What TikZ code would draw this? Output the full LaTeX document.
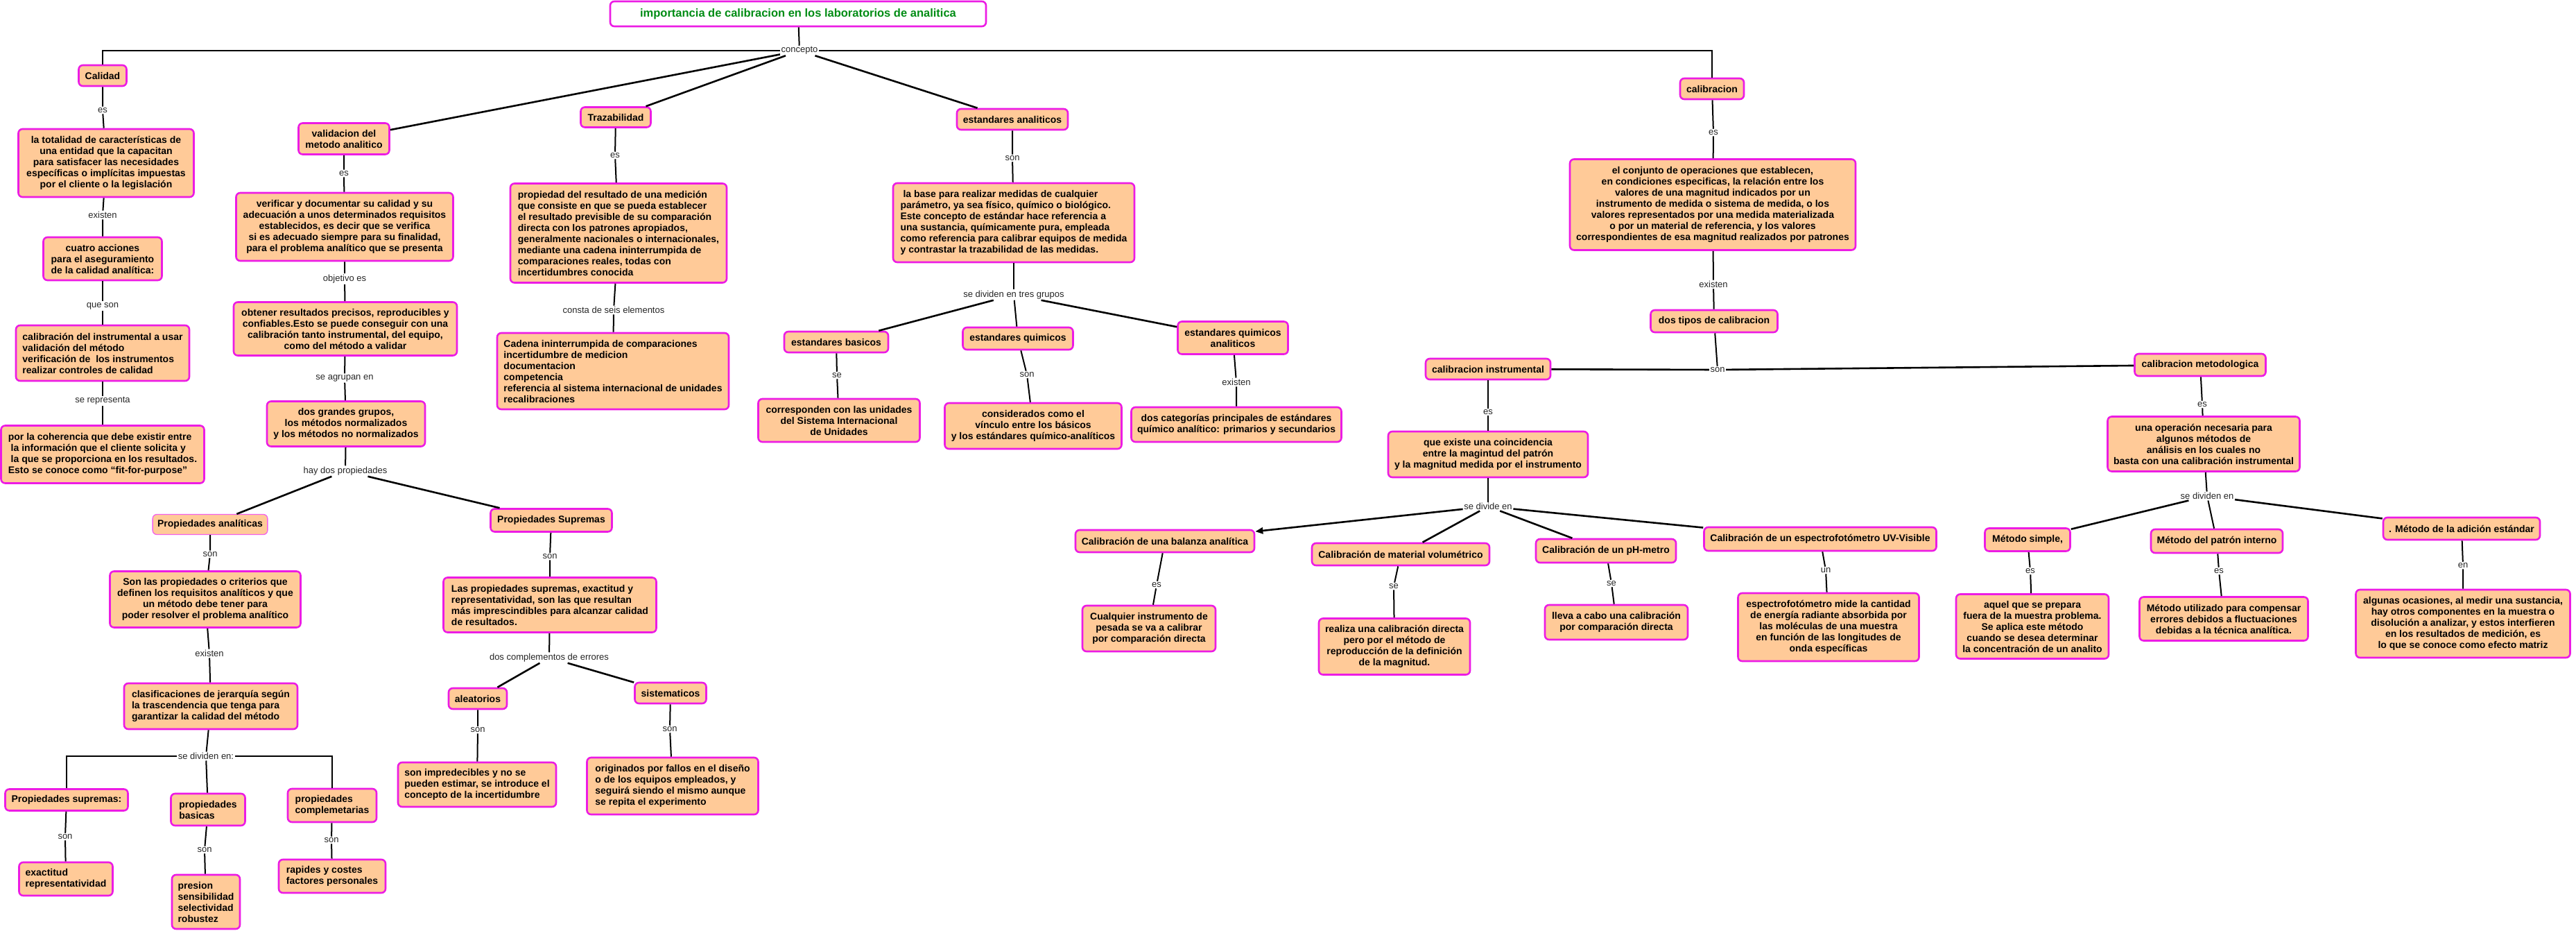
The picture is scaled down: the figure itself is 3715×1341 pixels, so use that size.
\documentclass[tikz,border=0pt]{standalone}
\usepackage{fontspec}
\setmainfont{Liberation Sans}
\usetikzlibrary{arrows.meta}
\definecolor{boxfill}{RGB}{255,202,152}
\definecolor{boxdraw}{RGB}{236,28,228}
\definecolor{titlegreen}{RGB}{0,140,20}
\begin{document}
\begin{tikzpicture}[x=1pt,y=-1pt,
 bx/.style={draw=boxdraw, fill=boxfill, line width=2.6pt, rounded corners=6pt, font=\fontsize{14}{16}\selectfont\bfseries, inner xsep=7pt, inner ysep=4pt},
 lb/.style={fill=white, font=\fontsize{13}{15}\selectfont, inner sep=1.5pt, text=black!85},
 cn/.style={line width=2pt, draw=black},
 cc/.style={align=center},
 cl/.style={align=left},
]
\useasboundingbox (0,0) rectangle (3715,1341);

% ---------- title ----------
\node[bx, fill=white, text=titlegreen, font=\fontsize{16.5}{19}\selectfont\bfseries, minimum width=542pt, minimum height=36pt] (title) at (1151,20) {importancia de calibracion en los laboratorios de analitica};
\node[lb] (concepto) at (1153,73) {concepto};

% ---------- Calidad column ----------
\node[bx, minimum width=69pt, minimum height=30pt] (calidad) at (148,109) {Calidad};
\node[lb] (esA) at (148,159) {es};
\node[bx, cc, minimum width=253pt, minimum height=98pt] (totalidad) at (153,235) {la totalidad de características de\\una entidad que la capacitan\\para satisfacer las necesidades\\específicas o implícitas impuestas\\por el cliente o la legislación};
\node[lb] (existenA) at (148,310) {existen};
\node[bx, cc, minimum width=171pt, minimum height=62pt] (cuatro) at (148,373) {cuatro acciones\\para el aseguramiento\\de la calidad analítica:};
\node[lb] (queson) at (148,441) {que son};
\node[bx, cl, minimum width=250pt, minimum height=80pt] (acciones) at (148,509) {calibración del instrumental a usar\\validación del método\\verificación de\ \ los instrumentos\\realizar controles de calidad};
\node[lb] (serep) at (148,578) {se representa};
\node[bx, cl, minimum width=293pt, minimum height=83pt] (coherencia) at (148,655) {por la coherencia que debe existir entre\\\ la información que el cliente solicita y\\\ la que se proporciona en los resultados.\\Esto se conoce como “fit-for-purpose”};

% ---------- validacion column ----------
\node[bx, cc, minimum width=131pt, minimum height=45pt] (valid) at (496,200) {validacion del\\metodo analitico};
\node[lb] (esB) at (496,250) {es};
\node[bx, cc, minimum width=313pt, minimum height=98pt] (verif) at (497,327) {verificar y documentar su calidad y su\\adecuación a unos determinados requisitos\\establecidos, es decir que se verifica\\si es adecuado siempre para su finalidad,\\para el problema analítico que se presenta};
\node[lb] (objetivo) at (497,402) {objetivo es};
\node[bx, cc, minimum width=322pt, minimum height=77pt] (obtener) at (498,474) {obtener resultados precisos, reproducibles y\\confiables.Esto se puede conseguir con una\\calibración tanto instrumental, del equipo,\\como del método a validar};
\node[lb] (seagrupan) at (497,545) {se agrupan en};
\node[bx, cc, minimum width=228pt, minimum height=65pt] (grupos) at (499,611) {dos grandes grupos,\\los métodos normalizados\\y los métodos no normalizados};
\node[lb] (haydos) at (498,679) {hay dos propiedades};
\node[bx, line width=1.3pt, draw=boxdraw!70, minimum width=165pt, minimum height=29pt] (propanal) at (303,756) {Propiedades analíticas};
\node[bx, minimum width=175pt, minimum height=33pt] (propsupA) at (795,750) {Propiedades Supremas};
\node[lb] (sonC) at (303,799) {son};
\node[bx, cc, minimum width=275pt, minimum height=81pt] (sonlas) at (296,864) {Son las propiedades o criterios que\\definen los requisitos analíticos y que\\un método debe tener para\\poder resolver el problema analítico};
\node[lb] (sonD) at (793,802) {son};
\node[bx, cl, minimum width=307pt, minimum height=79pt] (lasprop) at (793,872) {Las propiedades supremas, exactitud y\\representatividad, son las que resultan\\más imprescindibles para alcanzar calidad\\de resultados.};
\node[lb] (existenB) at (302,942) {existen};
\node[bx, cl, minimum width=250pt, minimum height=66pt] (clasif) at (304,1018) {clasificaciones de jerarquía según\\la trascendencia que tenga para\\garantizar la calidad del método};
\node[lb] (sedivA) at (297,1090) {se dividen en:};
\node[bx, minimum width=177pt, minimum height=31pt] (propsupB) at (96,1153) {Propiedades supremas:};
\node[lb] (sonE) at (94,1206) {son};
\node[bx, cl, minimum width=135pt, minimum height=48pt] (exactitud) at (95,1267) {exactitud\\representatividad};
\node[bx, cl, minimum width=107pt, minimum height=46pt] (propbas) at (300,1167) {propiedades\\basicas};
\node[lb] (sonF) at (295,1225) {son};
\node[bx, cl, minimum width=98pt, minimum height=78pt] (presion) at (297,1300) {presion\\sensibilidad\\selectividad\\robustez};
\node[bx, cl, minimum width=128pt, minimum height=48pt] (propcomp) at (479,1161) {propiedades\\complemetarias};
\node[lb] (sonG) at (478,1211) {son};
\node[bx, cl, minimum width=154pt, minimum height=48pt] (rapides) at (479,1263) {rapides y costes\\factores personales};
\node[lb] (doscomp) at (792,948) {dos complementos de errores};
\node[bx, minimum width=84pt, minimum height=30pt] (aleat) at (689,1007) {aleatorios};
\node[lb] (sonH) at (689,1052) {son};
\node[bx, cl, minimum width=228pt, minimum height=64pt] (impred) at (688,1131) {son impredecibles y no se\\pueden estimar, se introduce el\\concepto de la incertidumbre};
\node[bx, minimum width=103pt, minimum height=30pt] (sistem) at (967,999) {sistematicos};
\node[lb] (sonI) at (966,1051) {son};
\node[bx, cl, minimum width=247pt, minimum height=82pt] (originados) at (970,1133) {originados por fallos en el diseño\\o de los equipos empleados, y\\seguirá siendo el mismo aunque\\se repita el experimento};

% ---------- Trazabilidad ----------
\node[bx, minimum width=101pt, minimum height=29pt] (traz) at (888,169) {Trazabilidad};
\node[lb] (esJ) at (887,224) {es};
\node[bx, cl, minimum width=312pt, minimum height=143pt] (propiedad) at (892,336) {propiedad del resultado de una medición\\que consiste en que se pueda establecer\\el resultado previsible de su comparación\\directa con los patrones apropiados,\\generalmente nacionales o internacionales,\\mediante una cadena ininterrumpida de\\comparaciones reales, todas con\\incertidumbres conocida};
\node[lb] (consta) at (885,447) {consta de seis elementos};
\node[bx, cl, minimum width=334pt, minimum height=110pt] (cadena) at (884,535) {Cadena ininterrumpida de comparaciones\\incertidumbre de medicion\\documentacion\\competencia\\referencia al sistema internacional de unidades\\recalibraciones};

% ---------- estandares ----------
\node[bx, minimum width=160pt, minimum height=30pt] (estand) at (1460,172) {estandares analiticos};
\node[lb] (sonK) at (1460,228) {son};
\node[bx, cl, minimum width=348pt, minimum height=114pt] (labase) at (1462,321) {\ la base para realizar medidas de cualquier\\parámetro, ya sea físico, químico o biológico.\\Este concepto de estándar hace referencia a\\una sustancia, químicamente pura, empleada\\como referencia para calibrar equipos de medida\\y contrastar la trazabilidad de las medidas.};
\node[lb] (sediv3) at (1462,425) {se dividen en tres grupos};
\node[bx, minimum width=150pt, minimum height=30pt] (basicos) at (1206,493) {estandares basicos};
\node[lb] (seL) at (1207,541) {se};
\node[bx, cc, minimum width=233pt, minimum height=62pt] (corresp) at (1210,606) {corresponden con las unidades\\del Sistema Internacional\\de Unidades};
\node[bx, minimum width=159pt, minimum height=32pt] (quimicos) at (1468,488) {estandares quimicos};
\node[lb] (sonM) at (1481,540) {son};
\node[bx, cc, minimum width=255pt, minimum height=66pt] (consid) at (1490,614) {considerados como el\\vínculo entre los básicos\\y los estándares químico-analíticos};
\node[bx, cc, minimum width=159pt, minimum height=47pt] (quimanal) at (1778,487) {estandares quimicos\\analiticos};
\node[lb] (existenN) at (1783,551) {existen};
\node[bx, cc, minimum width=303pt, minimum height=50pt] (doscat) at (1783,612) {dos categorías principales de estándares\\químico analítico: primarios y secundarios};

% ---------- calibracion ----------
\node[bx, minimum width=92pt, minimum height=30pt] (calib) at (2469,128) {calibracion};
\node[lb] (esO) at (2471,191) {es};
\node[bx, cc, minimum width=412pt, minimum height=131pt] (conjunto) at (2470,295) {el conjunto de operaciones que establecen,\\en condiciones especificas, la relación entre los\\valores de una magnitud indicados por un\\instrumento de medida o sistema de medida, o los\\valores representados por una medida materializada\\o por un material de referencia, y los valores\\correspondientes de esa magnitud realizados por patrones};
\node[lb] (existenP) at (2471,410) {existen};
\node[bx, minimum width=183pt, minimum height=32pt] (dostipos) at (2472,463) {dos tipos de calibracion};
\node[lb] (sonQ) at (2477,533) {son};
\node[bx, minimum width=180pt, minimum height=30pt] (calinst) at (2146,532) {calibracion instrumental};
\node[bx, minimum width=189pt, minimum height=32pt] (calmet) at (3173,526) {calibracion metodologica};
\node[lb] (esR) at (2146,594) {es};
\node[bx, cc, minimum width=288pt, minimum height=66pt] (coinc) at (2146,655) {que existe una coincidencia\\entre la magintud del patrón\\y la magnitud medida por el instrumento};
\node[lb] (sedivB) at (2146,730) {se divide en};
\node[bx, minimum width=258pt, minimum height=32pt] (balanza) at (1680,780) {Calibración de una balanza analítica};
\node[bx, minimum width=256pt, minimum height=32pt] (volum) at (2020,799) {Calibración de material volumétrico};
\node[bx, minimum width=202pt, minimum height=34pt] (ph) at (2316,794) {Calibración de un pH-metro};
\node[bx, minimum width=335pt, minimum height=34pt] (espec) at (2625,777) {Calibración de un espectrofotómetro UV-Visible};
\node[lb] (esS) at (1668,843) {es};
\node[bx, cc, minimum width=192pt, minimum height=66pt] (cualquier) at (1657,906) {Cualquier instrumento de\\pesada se va a calibrar\\por comparación directa};
\node[lb] (seT) at (2010,845) {se};
\node[bx, cc, minimum width=218pt, minimum height=81pt] (realiza) at (2011,932) {realiza una calibración directa\\pero por el método de\\reproducción de la definición\\de la magnitud.};
\node[lb] (seU) at (2324,841) {se};
\node[bx, cc, minimum width=206pt, minimum height=50pt] (lleva) at (2331,897) {lleva a cabo una calibración\\por comparación directa};
\node[lb] (unV) at (2633,822) {un};
\node[bx, cc, minimum width=261pt, minimum height=98pt] (espectro) at (2637,904) {espectrofotómetro mide la cantidad\\de energía radiante absorbida por\\las moléculas de una muestra\\en función de las longitudes de\\onda específicas};

% ---------- metodologica ----------
\node[lb] (esW) at (3176,583) {es};
\node[bx, cc, minimum width=277pt, minimum height=79pt] (operacion) at (3178,640) {una operación necesaria para\\algunos métodos de\\análisis en los cuales no\\basta con una calibración instrumental};
\node[lb] (sedivC) at (3183,715) {se dividen en};
\node[bx, minimum width=123pt, minimum height=33pt] (simple) at (2924,778) {Método simple,};
\node[lb] (esX) at (2928,823) {es};
\node[bx, cc, minimum width=220pt, minimum height=93pt] (aquel) at (2931,903) {aquel que se prepara\\fuera de la muestra problema.\\Se aplica este método\\cuando se desea determinar\\la concentración de un analito};
\node[bx, minimum width=190pt, minimum height=34pt] (patron) at (3197,780) {Método del patrón interno};
\node[lb] (esY) at (3200,823) {es};
\node[bx, cc, minimum width=243pt, minimum height=63pt] (utilizado) at (3207,892) {Método utilizado para compensar\\errores debidos a fluctuaciones\\debidas a la técnica analítica.};
\node[bx, minimum width=226pt, minimum height=32pt] (adicion) at (3550,762) {. Método de la adición estándar};
\node[lb] (enZ) at (3552,815) {en};
\node[bx, cc, minimum width=309pt, minimum height=98pt] (algunas) at (3552,899) {algunas ocasiones, al medir una sustancia,\\hay otros componentes en la muestra o\\disolución a analizar, y estos interfieren\\en los resultados de medición, es\\lo que se conoce como efecto matriz};

% ---------- connectors ----------
\begin{scope}[cn]
\draw (title) -- (concepto);
\draw[line width=2.6pt] (concepto) -| (calidad);
\draw[line width=2.6pt] (concepto) -| (calib);
\draw[line width=2.6pt] (concepto) -- (valid);
\draw[line width=2.6pt] (concepto) -- (traz);
\draw[line width=2.6pt] (concepto) -- (estand);
% calidad
\draw (calidad) -- (esA) -- (totalidad);
\draw (totalidad) -- (existenA) -- (cuatro);
\draw (cuatro) -- (queson) -- (acciones);
\draw (acciones) -- (serep) -- (coherencia);
% validacion
\draw (valid) -- (esB) -- (verif);
\draw (verif) -- (objetivo) -- (obtener);
\draw (obtener) -- (seagrupan) -- (grupos);
\draw (grupos) -- (haydos);
\draw[line width=2.6pt] (haydos) -- (propanal);
\draw[line width=2.6pt] (haydos) -- (propsupA);
\draw (propanal) -- (sonC) -- (sonlas);
\draw (sonlas) -- (existenB) -- (clasif);
\draw (clasif) -- (sedivA);
\draw[line width=2.6pt] (sedivA) -| (propsupB);
\draw[line width=2.6pt] (sedivA) -| (propcomp);
\draw (sedivA) -- (propbas);
\draw (propsupB) -- (sonE) -- (exactitud);
\draw (propbas) -- (sonF) -- (presion);
\draw (propcomp) -- (sonG) -- (rapides);
\draw (propsupA) -- (sonD) -- (lasprop);
\draw (lasprop) -- (doscomp);
\draw[line width=2.6pt] (doscomp) -- (aleat);
\draw[line width=2.6pt] (doscomp) -- (sistem);
\draw (aleat) -- (sonH) -- (impred);
\draw (sistem) -- (sonI) -- (originados);
% trazabilidad
\draw (traz) -- (esJ) -- (propiedad);
\draw (propiedad) -- (consta) -- (cadena);
% estandares
\draw (estand) -- (sonK) -- (labase);
\draw (labase) -- (sediv3);
\draw[line width=2.6pt] (sediv3) -- (basicos);
\draw (sediv3) -- (quimicos);
\draw[line width=2.6pt] (sediv3) -- (quimanal);
\draw (basicos) -- (seL) -- (corresp);
\draw (quimicos) -- (sonM) -- (consid);
\draw (quimanal) -- (existenN) -- (doscat);
% calibracion
\draw (calib) -- (esO) -- (conjunto);
\draw (conjunto) -- (existenP) -- (dostipos);
\draw (dostipos) -- (sonQ);
\draw[line width=2.6pt] (sonQ) -- (calinst);
\draw[line width=2.6pt] (sonQ) -- (calmet);
\draw (calinst) -- (esR) -- (coinc);
\draw (coinc) -- (sedivB);
\draw[line width=2.6pt, -{Triangle[length=11pt,width=9pt]}] (sedivB) -- (balanza);
\draw[line width=2.6pt] (sedivB) -- (volum);
\draw[line width=2.6pt] (sedivB) -- (ph);
\draw[line width=2.6pt] (sedivB) -- (espec);
\draw (balanza) -- (esS) -- (cualquier);
\draw (volum) -- (seT) -- (realiza);
\draw (ph) -- (seU) -- (lleva);
\draw (espec) -- (unV) -- (espectro);
% metodologica
\draw (calmet) -- (esW) -- (operacion);
\draw (operacion) -- (sedivC);
\draw[line width=2.6pt] (sedivC) -- (simple);
\draw (sedivC) -- (patron);
\draw[line width=2.6pt] (sedivC) -- (adicion);
\draw (simple) -- (esX) -- (aquel);
\draw (patron) -- (esY) -- (utilizado);
\draw (adicion) -- (enZ) -- (algunas);
\end{scope}
\end{tikzpicture}
\end{document}
